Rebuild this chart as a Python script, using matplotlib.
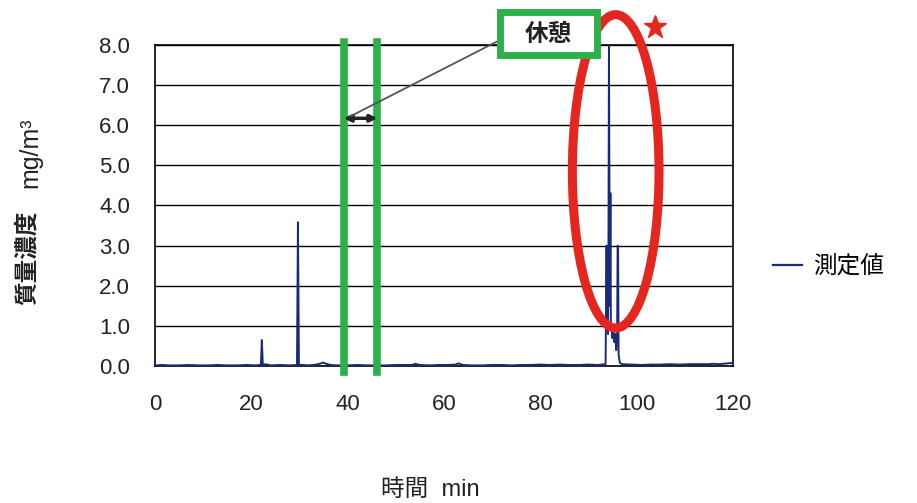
import matplotlib
matplotlib.use("Agg")
import matplotlib.pyplot as plt
from matplotlib.patches import Ellipse, Rectangle
from matplotlib.lines import Line2D

plt.rcParams['font.family'] = ['Liberation Sans', 'Noto Sans CJK JP', 'DejaVu Sans']

time_min = [0, 1.5, 3, 5, 7, 9, 11, 13, 15, 17, 19, 21, 22.0, 22.2, 22.4, 23, 24, 26, 28,
            29.5, 29.7, 29.9, 30.5, 32, 33.5, 34.5, 35.0, 35.5, 36.5, 38, 40, 42, 44, 46,
            48, 50, 52, 53.5, 54, 55, 57, 59, 61, 62.5, 63, 63.5, 64, 66, 68, 70, 72, 74,
            76, 78, 80, 82, 84, 86, 88, 90, 92, 93.6,
            93.8, 93.9, 94.0, 94.1, 94.2, 94.3, 94.4, 94.5, 94.6, 94.7, 94.8, 95.0, 95.2,
            95.4, 95.6, 95.8, 96.0, 96.1, 96.2, 96.3, 96.4, 96.6, 97,
            99, 101, 103, 105, 107, 109, 111, 113, 115, 116, 117, 118, 119, 119.5, 120]
conc = [0.02, 0.03, 0.02, 0.02, 0.03, 0.02, 0.02, 0.03, 0.02, 0.02, 0.03, 0.02, 0.03, 0.65, 0.03, 0.05, 0.02, 0.03, 0.02,
        0.03, 3.58, 0.03, 0.03, 0.02, 0.04, 0.07, 0.09, 0.06, 0.03, 0.02, 0.02, 0.03, 0.02, 0.02,
        0.02, 0.03, 0.03, 0.03, 0.06, 0.03, 0.02, 0.03, 0.03, 0.04, 0.07, 0.05, 0.03, 0.02, 0.02, 0.03, 0.03, 0.02,
        0.03, 0.03, 0.04, 0.03, 0.04, 0.03, 0.03, 0.04, 0.03, 0.05,
        3.0, 1.2, 2.9, 0.8, 3.0, 8.0, 4.4, 1.5, 4.3, 0.9, 1.0, 0.7, 0.9,
        0.6, 0.8, 0.4, 0.7, 3.0, 2.9, 0.3, 0.2, 0.08, 0.05,
        0.04, 0.03, 0.04, 0.04, 0.05, 0.04, 0.05, 0.05, 0.05, 0.06, 0.05, 0.06, 0.07, 0.08, 0.07]

yticks = [0, 1, 2, 3, 4, 5, 6, 7, 8]
xticks = [0, 20, 40, 60, 80, 100, 120]
rest_start, rest_end = 39.2, 46.2

W, H = 917, 503
fig = plt.figure(figsize=(W / 100, H / 100), dpi=100)
ax = fig.add_axes([0.169, 0.272, 0.630, 0.639])

ax.plot(time_min, conc, color='#1a2a7a', lw=1.4, label='測定値', zorder=3)

ax.set_xlim(0, 120)
ax.set_ylim(0, 8)
ax.set_xticks(xticks)
ax.set_yticks(yticks)
ax.set_yticklabels(['%.1f' % v for v in yticks])
ax.tick_params(length=0, labelsize=16, colors='#222222')
ax.tick_params(axis='y', pad=18)
ax.tick_params(axis='x', pad=20)
ax.yaxis.grid(True, color='black', lw=1)
for s in ax.spines.values():
    s.set_color('black')
    s.set_linewidth(1.2)

# rest period markers
for xv in (rest_start, rest_end):
    ax.plot([xv, xv], [-0.15, 8.08], color='#2bb04a', lw=5.5, clip_on=False, zorder=4)
ax.annotate('', xy=(rest_start, 6.17), xytext=(rest_end, 6.17),
            arrowprops=dict(arrowstyle='<|-|>', color='#222222', lw=2.5,
                            mutation_scale=10, shrinkA=0, shrinkB=0), zorder=5)

# label box for the rest period (pixel box 500-597 x 12-55)
box = Rectangle((500 / W, 1 - 55 / H), 97 / W, 43 / H, transform=fig.transFigure,
                fc='white', ec='#2bb04a', lw=5, zorder=6)
fig.patches.append(box)
fig.text(548 / W, 1 - 34 / H, '休憩', fontsize=17, fontweight='bold',
         ha='center', va='center', color='#222222', zorder=7)
fig.add_artist(Line2D([500 / W, 351 / W], [1 - 40 / H, 1 - 116 / H],
                      transform=fig.transFigure, color='#555555', lw=1.3, zorder=5))

# highlighted peak
ell = Ellipse((95.7, 4.85), 18.0, 7.8, fill=False, ec='#e4261f', lw=6.5,
              clip_on=False, zorder=7)
ax.add_patch(ell)
ax.plot([103.8], [8.43], marker='*', color='#e4261f', ms=17, clip_on=False, zorder=7)

# axis titles
fig.text(27 / W, 1 - 258 / H, '質量濃度', rotation=90, fontsize=17, fontweight='bold',
         ha='center', va='center', color='#222222')
fig.text(30 / W, 1 - 153 / H, 'mg/m³', rotation=90, fontsize=18,
         ha='center', va='center', color='#222222')
fig.text(430 / W, 1 - 490 / H, '時間  min', fontsize=17,
         ha='center', va='center', color='#222222')

handle = Line2D([0], [0], color='#1a2a7a', lw=1.6)
fig.legend([handle], ['測定値'], loc='center left', bbox_to_anchor=(0.82, 1 - 267 / H),
           frameon=False, fontsize=17, handlelength=1.2, handletextpad=0.5)

fig.savefig('out.png', dpi=100)
